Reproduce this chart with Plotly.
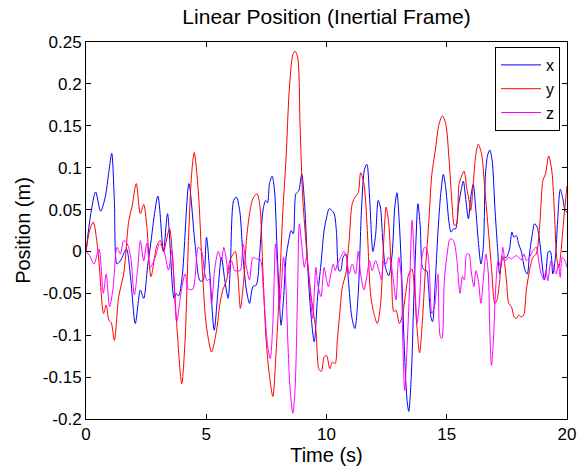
import plotly.graph_objects as go

# ---- data ----
t_x = [0, 0.2, 0.40, 0.61, 0.8, 0.95, 1.07, 1.18, 1.29, 1.45, 1.68, 1.85, 2.05, 2.26, 2.40, 2.56, 2.67, 2.99, 3.22, 3.39,
       3.66, 3.75, 3.85, 4.0, 4.28, 4.53, 4.74, 4.86, 5.01, 5.15, 5.33, 5.49, 5.63, 5.77, 5.91, 6.0, 6.14, 6.25, 6.39, 6.53,
       6.67, 6.80, 6.94, 7.08, 7.22, 7.36, 7.47, 7.55, 7.63, 7.74, 7.84, 7.93, 8.04, 8.11, 8.21, 8.32, 8.43, 8.53, 8.62, 8.73,
       8.84, 8.97, 9.08, 9.22, 9.35, 9.49, 9.63, 9.77, 9.90, 10.0, 10.11, 10.22, 10.32, 10.41, 10.52, 10.59, 10.69, 10.80, 10.91, 11.05,
       11.18, 11.32, 11.46, 11.58, 11.68, 11.79, 11.93, 12.04, 12.15, 12.24, 12.34, 12.45, 12.59, 12.73, 12.84, 12.93, 13.03, 13.14, 13.25, 13.35,
       13.42, 13.53, 13.62, 13.72, 13.80, 13.90, 13.99, 14.1, 14.17, 14.24, 14.34, 14.41, 14.52, 14.63, 14.75, 14.86, 14.96, 15.10, 15.18, 15.28,
       15.37, 15.48, 15.59, 15.69, 15.78, 15.90, 16.0, 16.1, 16.20, 16.31, 16.42, 16.52, 16.61, 16.70, 16.79, 16.89, 17.0, 17.11, 17.2, 17.3,
       17.38, 17.48, 17.61, 17.71, 17.79, 17.89, 17.99, 18.1, 18.17, 18.26, 18.35, 18.44, 18.54, 18.65, 18.76, 18.86, 18.95, 19.06, 19.13, 19.23,
       19.31, 19.41, 19.52, 19.61, 19.72, 19.82, 19.92, 20.0]
x_pos = [0.0, 0.045, 0.071, 0.048, 0.065, 0.095, 0.117, 0.06, -0.015, -0.01, 0.003, -0.03, -0.086, -0.046, -0.056, -0.018, 0.005, 0.066, 0.0, 0.045,
         -0.056, -0.05, -0.053, -0.03, 0.081, 0.01, -0.035, -0.035, 0.017, -0.027, -0.094, -0.046, -0.007, -0.034, -0.056, -0.02, 0.061, 0.065, 0.049, -0.007,
         -0.046, -0.062, -0.042, -0.04, -0.003, 0.049, 0.061, 0.058, 0.081, 0.090, 0.072, 0.013, -0.058, -0.088, -0.058, -0.007, 0.013, 0.025, 0.021, 0.069,
         0.072, 0.092, 0.061, -0.019, -0.074, -0.108, -0.054, -0.015, 0.025, 0.04, 0.051, 0.049, 0.045, 0.025, -0.023, -0.023, -0.007, -0.003, -0.034, -0.078,
         -0.092, -0.050, 0.053, 0.098, 0.104, 0.065, 0.0, 0.019, 0.061, 0.053, 0.013, -0.019, -0.029, -0.003, 0.053, 0.070, 0.033, -0.038, -0.126, -0.178,
         -0.191, -0.146, -0.066, 0.013, 0.057, 0.029, -0.019, -0.023, -0.023, -0.042, -0.078, -0.084, -0.038, 0.021, 0.069, 0.092, 0.075, 0.033, 0.023, 0.027,
         0.027, 0.053, 0.072, 0.084, 0.065, 0.039, 0.065, 0.080, 0.053, 0.013, -0.015, 0.005, 0.092, 0.115, 0.121, 0.108, 0.053, 0.005, -0.027, -0.01,
         -0.007, -0.007, 0.003, 0.023, 0.017, 0.019, 0.009, 0.0, -0.011, -0.023, -0.027, -0.003, 0.017, 0.033, 0.029, 0.013, -0.011, -0.034, -0.023, 0.0,
         0.0, -0.027, -0.007, 0.037, 0.074, 0.064, 0.049, 0.047]

t_y = [0, 0.15, 0.30, 0.5, 0.73, 0.84, 0.95, 1.05, 1.18, 1.36, 1.57, 1.78, 1.91, 2.09, 2.26, 2.40, 2.53, 2.70, 2.95, 3.09,
       3.22, 3.47, 3.64, 3.77, 3.98, 4.12, 4.26, 4.39, 4.50, 4.67, 4.81, 4.94, 5.04, 5.22, 5.43, 5.57, 5.70, 5.84, 5.98, 6.12,
       6.21, 6.32, 6.42, 6.56, 6.67, 6.80, 6.94, 7.11, 7.22, 7.36, 7.49, 7.63, 7.77, 7.90, 8.04, 8.18, 8.32, 8.45, 8.60, 8.69,
       8.80, 8.90, 9.01, 9.14, 9.28, 9.42, 9.56, 9.69, 9.79, 9.90, 10.0, 10.14, 10.25, 10.36, 10.45, 10.55, 10.66, 10.80, 10.94, 11.07,
       11.21, 11.32, 11.42, 11.56, 11.69, 11.83, 11.97, 12.11, 12.24, 12.38, 12.48, 12.59, 12.70, 12.80, 12.89, 13.03, 13.17, 13.31, 13.42, 13.55,
       13.66, 13.76, 13.87, 13.99, 14.1, 14.24, 14.38, 14.52, 14.68, 14.82, 14.96, 15.10, 15.21, 15.32, 15.41, 15.51, 15.62, 15.72, 15.83, 15.92,
       16.0, 16.1, 16.21, 16.31, 16.45, 16.59, 16.73, 16.86, 17.0, 17.09, 17.2, 17.3, 17.38, 17.48, 17.58, 17.69, 17.80, 17.89, 17.99, 18.1,
       18.20, 18.31, 18.44, 18.58, 18.72, 18.86, 19.0, 19.10, 19.24, 19.37, 19.48, 19.57, 19.66, 19.75, 19.87, 20.0]
y_pos = [0.0, 0.025, 0.035, 0.0, -0.074, -0.064, -0.082, -0.085, -0.106, -0.054, -0.026, 0.037, 0.053, 0.081, 0.045, 0.056, 0.03, -0.030, 0.007, 0.013,
         0.0, 0.027, -0.027, -0.086, -0.158, -0.106, 0.013, 0.092, 0.118, 0.072, -0.007, -0.07, -0.096, -0.120, -0.094, -0.062, -0.045, -0.035, -0.011, -0.003,
         0.0, -0.03, -0.068, -0.034, 0.013, 0.045, 0.063, 0.069, 0.057, -0.027, -0.106, -0.149, -0.173, -0.122, -0.046, 0.045, 0.112, 0.192, 0.235, 0.239,
         0.232, 0.15, 0.065, 0.013, -0.034, -0.066, -0.094, -0.141, -0.143, -0.126, -0.124, -0.140, -0.132, -0.134, -0.106, -0.074, -0.042, -0.027, 0.013, 0.057,
         0.066, 0.070, 0.094, 0.080, 0.029, -0.050, -0.074, -0.086, -0.066, 0.013, 0.053, 0.033, -0.027, -0.072, -0.07, -0.086, -0.074, -0.046, -0.027, -0.021,
         -0.046, -0.090, -0.121, -0.082, -0.027, 0.029, 0.092, 0.120, 0.152, 0.162, 0.152, 0.108, 0.061, 0.031, 0.033, 0.080, 0.090, 0.096, 0.076, 0.062,
         0.049, 0.080, 0.116, 0.128, 0.116, 0.072, 0.025, -0.019, -0.062, -0.058, -0.035, -0.005, -0.01, -0.034, -0.062, -0.066, -0.078, -0.080, -0.076, -0.078,
         -0.076, -0.046, -0.023, -0.007, -0.003, 0.029, 0.085, 0.092, 0.114, 0.096, 0.045, -0.007, -0.019, 0.0, 0.04, 0.078]

t_z = [0, 0.15, 0.33, 0.54, 0.72, 0.84, 0.98, 1.12, 1.29, 1.43, 1.57, 1.7, 1.85, 2.01, 2.15, 2.26, 2.40, 2.53, 2.67, 2.88,
       3.06, 3.22, 3.43, 3.57, 3.77, 3.94, 4.12, 4.26, 4.44, 4.67, 4.81, 4.94, 5.04, 5.12, 5.22, 5.36, 5.50, 5.63, 5.73, 5.84,
       5.91, 6.05, 6.18, 6.32, 6.42, 6.53, 6.67, 6.80, 6.94, 7.08, 7.24, 7.38, 7.47, 7.56, 7.66, 7.77, 7.88, 7.97, 8.04, 8.14,
       8.21, 8.29, 8.39, 8.49, 8.60, 8.69, 8.80, 8.87, 8.98, 9.08, 9.17, 9.28, 9.42, 9.56, 9.63, 9.77, 9.90, 10.0, 10.08, 10.18,
       10.28, 10.36, 10.45, 10.59, 10.73, 10.83, 10.94, 11.07, 11.21, 11.32, 11.42, 11.56, 11.69, 11.79, 11.90, 12.04, 12.18, 12.29, 12.38, 12.48,
       12.56, 12.66, 12.75, 12.89, 13.0, 13.1, 13.17, 13.25, 13.35, 13.45, 13.56, 13.67, 13.76, 13.86, 13.97, 14.08, 14.17, 14.27, 14.38, 14.49,
       14.63, 14.72, 14.80, 14.90, 15.0, 15.14, 15.28, 15.41, 15.55, 15.65, 15.73, 15.83, 15.92, 16.03, 16.13, 16.21, 16.31, 16.42, 16.52, 16.63,
       16.73, 16.79, 16.86, 16.94, 17.03, 17.14, 17.25, 17.33, 17.44, 17.58, 17.69, 17.79, 17.89, 17.99, 18.1, 18.21, 18.31, 18.44, 18.58, 18.72,
       18.82, 18.93, 19.04, 19.13, 19.2, 19.34, 19.45, 19.55, 19.64, 19.72, 19.8, 19.9, 20.0]
z_pos = [0.0, -0.005, -0.015, 0.003, -0.050, -0.027, -0.066, -0.045, 0.005, -0.003, 0.013, 0.01, -0.005, -0.052, -0.02, 0.013, -0.011, 0.01, -0.019, -0.007,
         0.009, 0.003, -0.022, 0.001, -0.084, -0.051, -0.027, -0.045, -0.045, 0.005, 0.0, -0.027, -0.035, -0.033, -0.062, -0.019, 0.0, -0.011, 0.005, -0.011,
         -0.027, -0.011, -0.023, -0.023, -0.023, 0.009, -0.019, -0.034, -0.007, -0.009, -0.009, -0.05, -0.086, -0.114, -0.128, -0.086, 0.009, -0.027, -0.066, -0.034,
         -0.007, -0.027, -0.106, -0.166, -0.193, -0.166, -0.046, 0.033, 0.005, -0.019, -0.007, -0.030, -0.080, -0.019, -0.038, -0.054, -0.019, -0.034, -0.042, -0.027,
         -0.015, -0.023, -0.015, -0.007, 0.0, -0.007, -0.027, -0.015, -0.027, 0.0, -0.027, -0.046, -0.027, -0.011, -0.023, -0.011, -0.023, -0.034, -0.011, -0.015,
         -0.007, -0.011, -0.027, -0.058, -0.007, -0.027, -0.106, -0.166, -0.114, -0.046, 0.037, -0.027, -0.086, -0.062, -0.007, 0.005, 0.003, -0.019, -0.074, -0.066,
         -0.027, -0.1, -0.104, -0.034, -0.007, 0.015, 0.013, -0.007, -0.050, -0.030, -0.034, -0.003, -0.003, -0.027, -0.042, -0.023, -0.034, -0.062, -0.034, -0.003,
         -0.027, -0.094, -0.136, -0.106, -0.046, -0.011, -0.019, 0.005, -0.011, -0.007, -0.009, -0.007, -0.005, -0.007, -0.010, -0.003, -0.011, -0.007, 0.001, 0.005,
         -0.011, -0.027, -0.034, -0.023, -0.035, -0.011, -0.019, -0.027, -0.015, -0.031, -0.007, -0.01, -0.019]

x_ticks = [0, 5, 10, 15, 20]
y_ticks = [-0.2, -0.15, -0.1, -0.05, 0, 0.05, 0.1, 0.15, 0.2, 0.25]
y_ticktext = ["-0.2", "-0.15", "-0.1", "-0.05", "0", "0.05", "0.1", "0.15", "0.2", "0.25"]

FONT = "Liberation Sans, Arial, sans-serif"

fig = go.Figure()
for t, v, name, col in [(t_x, x_pos, "x", "#0000ff"), (t_y, y_pos, "y", "#ff0000"), (t_z, z_pos, "z", "#ff00ff")]:
    fig.add_trace(go.Scatter(x=t, y=v, mode="lines", name=name,
                             line=dict(color=col, width=1, shape="spline", smoothing=0.8)))

axis_common = dict(showline=True, linecolor="black", linewidth=1, mirror="ticks", ticks="inside",
                   ticklen=5, tickcolor="black", showgrid=False, zeroline=False,
                   tickfont=dict(family=FONT, size=17, color="black"))

fig.update_layout(
    width=588, height=474,
    margin=dict(l=86, r=18, t=42, b=55),
    paper_bgcolor="white", plot_bgcolor="white",
    title=dict(text="Linear Position (Inertial Frame)", x=0.5, xref="paper", y=1 - 17 / 474,
               yanchor="middle", font=dict(family=FONT, size=21, color="black")),
    xaxis=dict(range=[0, 20], tickvals=x_ticks, ticktext=[str(v) for v in x_ticks],
               title=dict(text="Time (s)", font=dict(family=FONT, size=20, color="black"), standoff=4),
               **axis_common),
    yaxis=dict(range=[-0.2, 0.25], tickvals=y_ticks, ticktext=y_ticktext,
               title=dict(text="Position (m)", font=dict(family=FONT, size=20, color="black"), standoff=6),
               **axis_common),
    legend=dict(x=0.9855, y=0.9867, xanchor="right", yanchor="top",
                bordercolor="black", borderwidth=1, bgcolor="white",
                font=dict(family=FONT, size=16, color="black"),
                tracegroupgap=0, itemwidth=40),
    showlegend=True,
)

fig.write_html("out.html")
